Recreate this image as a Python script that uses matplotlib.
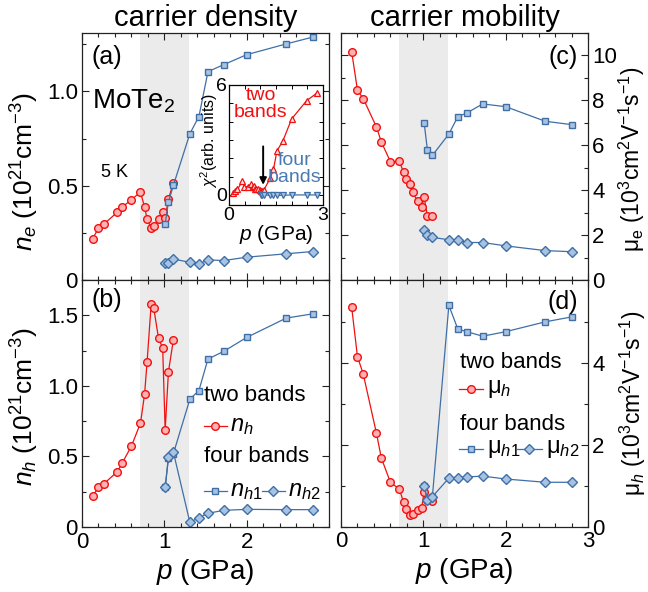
import numpy as np
import matplotlib
matplotlib.use("Agg")
import matplotlib.pyplot as plt
from matplotlib.ticker import MultipleLocator, FixedLocator

plt.rcParams["font.family"] = "Liberation Sans"
plt.rcParams["mathtext.fontset"] = "custom"
plt.rcParams["mathtext.rm"] = "Liberation Sans"
plt.rcParams["mathtext.it"] = "Liberation Sans:italic"
plt.rcParams["mathtext.bf"] = "Liberation Sans:bold"

# ---------- data ----------
p2 = [0.13, 0.20, 0.27, 0.43, 0.49, 0.60, 0.71, 0.76, 0.79, 0.84, 0.87, 0.93, 0.98, 1.01, 1.05, 1.11]
p4 = [1.01, 1.05, 1.11, 1.31, 1.42, 1.53, 1.72, 2.00, 2.48, 2.80]

n_e = [0.22, 0.275, 0.298, 0.36, 0.387, 0.426, 0.466, 0.387, 0.325, 0.274, 0.284, 0.323, 0.358, 0.327, 0.43, 0.515]
n_e1 = [0.298, 0.414, 0.502, 0.776, 0.867, 1.105, 1.142, 1.195, 1.252, 1.288]
n_e2 = [0.090, 0.092, 0.111, 0.094, 0.085, 0.107, 0.103, 0.121, 0.139, 0.151]

n_h = [0.22, 0.28, 0.308, 0.393, 0.455, 0.573, 0.735, 0.94, 1.166, 1.578, 1.555, 1.336, 1.268, 0.687, 1.10, 1.327]
n_h1 = [0.28, 0.49, 0.52, 0.905, 0.967, 1.19, 1.244, 1.343, 1.48, 1.51]
n_h2 = [0.28, 0.495, 0.53, 0.033, 0.066, 0.097, 0.118, 0.125, 0.123, 0.123]

mu_e = [10.16, 8.45, 8.08, 6.82, 6.15, 5.27, 5.28, 4.79, 4.50, 4.29, 3.91, 3.52, 3.24, 3.69, 2.83, 2.87]
mu_e1 = [7.0, 5.77, 5.55, 6.50, 7.28, 7.44, 7.84, 7.72, 7.07, 6.92]
mu_e2 = [2.23, 2.0, 1.90, 1.79, 1.79, 1.67, 1.67, 1.52, 1.31, 1.26]

mu_h = [5.35, 4.15, 3.73, 2.29, 1.68, 1.09, 0.92, 0.60, 0.43, 0.30, 0.32, 0.41, 0.47, 0.86, 0.65, 0.63]
mu_h1 = [1.0, 0.65, 0.74, 5.40, 4.82, 4.76, 4.65, 4.76, 5.00, 5.12]
mu_h2 = [1.01, 0.65, 0.74, 1.19, 1.20, 1.22, 1.24, 1.17, 1.09, 1.09]

p_chi2 = p2 + [1.31, 1.42, 1.53, 1.72, 2.00, 2.48, 2.80]
chi2_two = [0.1, 0.2, 0.3, 0.75, 0.45, 0.45, 0.6, 0.45, 0.5, 0.35, 0.35, 0.3, 0.25, 0.2, 0.2, 0.25,
            0.9, 1.4, 2.4, 2.95, 4.15, 5.15, 5.55]
chi2_four = [0.02, 0.0, 0.0, -0.02, -0.02, -0.02, -0.02, 0.0, 0.0, 0.0]

shade = (0.7, 1.3)

# ---------- styles ----------
RED = "#f01010"
RED_F = "#ffb0b0"
BLUE = "#3f6fa6"
BLUE_F = "#a8c3e2"
red_kw = dict(color=RED, lw=0.9, marker="o", ms=5.5, mfc=RED_F, mec=RED, mew=1.0)
sq_kw = dict(color=BLUE, lw=0.9, marker="s", ms=5.0, mfc=BLUE_F, mec=BLUE, mew=1.0)
di_kw = dict(color=BLUE, lw=0.9, marker="D", ms=5.5, mfc=BLUE_F, mec=BLUE, mew=1.0)

fig = plt.figure(figsize=(6.48, 5.92), dpi=100)
W, H = 648.0, 592.0


def axes_px(x0, x1, y0, y1):
    return fig.add_axes([x0 / W, 1 - y1 / H, (x1 - x0) / W, (y1 - y0) / H])


ax_a = axes_px(82, 329, 33, 280)
ax_b = axes_px(82, 329, 280, 527)
ax_c = axes_px(341, 588, 33, 280)
ax_d = axes_px(341, 588, 280, 527)

for ax in (ax_a, ax_b, ax_c, ax_d):
    ax.axvspan(*shade, color="#ebebeb", lw=0, zorder=0)
    ax.set_xlim(0, 3.0)
    ax.xaxis.set_minor_locator(MultipleLocator(0.2))
    ax.tick_params(which="both", direction="in", top=True, right=True, labelsize=16,
                   width=0.8, color="#222222")
    ax.tick_params(which="major", length=5)
    ax.tick_params(which="minor", length=3)
    for s in ax.spines.values():
        s.set_linewidth(0.9)
        s.set_color("#222222")

for ax in (ax_a, ax_c):
    ax.tick_params(labelbottom=False)
for ax in (ax_c, ax_d):
    ax.tick_params(labelleft=False, labelright=True, pad=3)
for ax in (ax_a, ax_b):
    ax.tick_params(axis="y", pad=3)

# ---------- (a) ----------
ax_a.plot(p2, n_e, **red_kw)
ax_a.plot(p4, n_e1, **sq_kw)
ax_a.plot(p4, n_e2, **di_kw)
ax_a.set_ylim(0, 1.31)
ax_a.set_yticks([0, 0.5, 1.0])
ax_a.set_yticklabels(["0", "0.5", "1.0"])
ax_a.yaxis.set_minor_locator(MultipleLocator(0.25))
ax_a.set_title("carrier density", fontsize=21, pad=5)
ax_a.set_ylabel(r"$n_e$ (10$^{21}$cm$^{-3}$)", fontsize=19)
ax_a.yaxis.set_label_coords(-0.165, 0.44)
ax_a.text(0.04, 0.95, "(a)", transform=ax_a.transAxes, fontsize=18, va="top", ha="left")
ax_a.text(0.04, 0.78, r"MoTe$_2$", transform=ax_a.transAxes, fontsize=20, va="top", ha="left")
ax_a.text(0.075, 0.435, "5 K", transform=ax_a.transAxes, fontsize=13, va="center", ha="left")

# inset
ax_i = axes_px(229, 323, 85, 205)
ax_i.plot(p_chi2, chi2_two, color=RED, lw=0.9, marker="^", ms=4.5, mfc="#ffe6e6", mec=RED, mew=0.9)
ax_i.plot(p4, chi2_four, color=BLUE, lw=0.9, marker="v", ms=4.0, mfc=BLUE_F, mec=BLUE, mew=0.9)
ax_i.annotate("", xy=(1.09, 0.4), xytext=(1.09, 2.8),
              arrowprops=dict(arrowstyle="-|>", color="black", lw=1.4, mutation_scale=10))
ax_i.set_xlim(0, 3)
ax_i.set_ylim(-0.55, 6)
ax_i.set_xticks([0, 3])
ax_i.set_yticks([0, 6])
ax_i.xaxis.set_minor_locator(FixedLocator([0.5, 1, 1.5, 2, 2.5]))
ax_i.yaxis.set_minor_locator(FixedLocator([1, 2, 3, 4, 5]))
ax_i.tick_params(which="both", direction="in", top=True, right=True, labelsize=14, pad=1.5,
                 width=0.7)
ax_i.tick_params(which="major", length=3.5)
ax_i.tick_params(which="minor", length=3)
for s in ax_i.spines.values():
    s.set_linewidth(0.9)
ax_i.set_xlabel(r"$p$ (GPa)", fontsize=15, labelpad=-1)
ax_i.set_ylabel(r"$\chi^{2}$(arb. units)", fontsize=11.5, labelpad=-2)
ax_i.yaxis.set_label_coords(-0.10, 0.54)
ax_i.text(0.34, 0.84, "two\nbands", transform=ax_i.transAxes, fontsize=14, color=RED,
          ha="center", va="center", linespacing=1.0)
ax_i.text(0.70, 0.30, "four\nbands", transform=ax_i.transAxes, fontsize=14, color="#4a7ab3",
          ha="center", va="center", linespacing=1.0)

# ---------- (b) ----------
ax_b.plot(p2, n_h, **red_kw)
ax_b.plot(p4, n_h1, **sq_kw)
ax_b.plot(p4, n_h2, **di_kw)
ax_b.set_ylim(0, 1.75)
ax_b.set_yticks([0, 0.5, 1.0, 1.5])
ax_b.set_yticklabels(["0", "0.5", "1.0", "1.5"])
ax_b.yaxis.set_minor_locator(MultipleLocator(0.25))
ax_b.set_xticks([0, 1, 2])
ax_b.set_xlabel(r"$p$ (GPa)", fontsize=20, labelpad=3)
ax_b.set_ylabel(r"$n_h$ (10$^{21}$cm$^{-3}$)", fontsize=19)
ax_b.yaxis.set_label_coords(-0.165, 0.486)
ax_b.text(0.04, 0.968, "(b)", transform=ax_b.transAxes, fontsize=18, va="top", ha="left")

# hand-made legend (b)
t = ax_b.transAxes
ax_b.text(0.495, 0.532, "two bands", transform=t, fontsize=16, va="center", ha="left")
ax_b.plot([0.494, 0.587], [0.41, 0.41], transform=t, color=RED, lw=0.9)
ax_b.plot([0.540], [0.41], transform=t, ls="none", marker="o", ms=5.5, mfc=RED_F, mec=RED, mew=1.0)
ax_b.text(0.60, 0.41, r"$n_h$", transform=t, fontsize=17, va="center", ha="left")
ax_b.text(0.495, 0.287, "four bands", transform=t, fontsize=16, va="center", ha="left")
ax_b.plot([0.494, 0.587], [0.147, 0.147], transform=t, color=BLUE, lw=0.9)
ax_b.plot([0.540], [0.147], transform=t, ls="none", marker="s", ms=5.0, mfc=BLUE_F, mec=BLUE, mew=1.0)
ax_b.text(0.60, 0.147, r"$n_{h1}$", transform=t, fontsize=17, va="center", ha="left")
ax_b.plot([0.729, 0.822], [0.147, 0.147], transform=t, color=BLUE, lw=0.9)
ax_b.plot([0.775], [0.147], transform=t, ls="none", marker="D", ms=5.5, mfc=BLUE_F, mec=BLUE, mew=1.0)
ax_b.text(0.835, 0.147, r"$n_{h2}$", transform=t, fontsize=17, va="center", ha="left")

# ---------- (c) ----------
ax_c.plot(p2, mu_e, **red_kw)
ax_c.plot(p4, mu_e1, **sq_kw)
ax_c.plot(p4, mu_e2, **di_kw)
ax_c.set_ylim(0, 11)
ax_c.set_yticks([0, 2, 4, 6, 8, 10])
ax_c.yaxis.set_minor_locator(MultipleLocator(1))
ax_c.set_title("carrier mobility", fontsize=21, pad=5)
ax_c.yaxis.set_label_position("right")
ax_c.set_ylabel(r"$\mathrm{\mu_e}$ (10$^{3}$cm$^{2}$V$^{-1}$s$^{-1}$)", fontsize=16.5)
ax_c.yaxis.set_label_coords(1.115, 0.49)
ax_c.text(0.96, 0.95, "(c)", transform=ax_c.transAxes, fontsize=18, va="top", ha="right")

# ---------- (d) ----------
ax_d.plot(p2, mu_h, **red_kw)
ax_d.plot(p4, mu_h1, **sq_kw)
ax_d.plot(p4, mu_h2, **di_kw)
ax_d.set_ylim(0, 6.02)
ax_d.set_yticks([0, 2, 4])
ax_d.yaxis.set_minor_locator(FixedLocator([1, 3, 5]))
ax_d.set_xticks([0, 1, 2, 3])
ax_d.set_xlabel(r"$p$ (GPa)", fontsize=20, labelpad=3)
ax_d.yaxis.set_label_position("right")
ax_d.set_ylabel(r"$\mathrm{\mu}_{h}$ (10$^{3}$cm$^{2}$V$^{-1}$s$^{-1}$)", fontsize=16.5)
ax_d.yaxis.set_label_coords(1.12, 0.50)
ax_d.text(0.96, 0.96, "(d)", transform=ax_d.transAxes, fontsize=18, va="top", ha="right")

t = ax_d.transAxes
ax_d.text(0.482, 0.668, "two bands", transform=t, fontsize=16, va="center", ha="left")
ax_d.plot([0.478, 0.575], [0.559, 0.559], transform=t, color=RED, lw=0.9)
ax_d.plot([0.527], [0.559], transform=t, ls="none", marker="o", ms=5.5, mfc=RED_F, mec=RED, mew=1.0)
ax_d.text(0.59, 0.559, r"$\mathrm{\mu}_{h}$", transform=t, fontsize=17, va="center", ha="left")
ax_d.text(0.482, 0.417, "four bands", transform=t, fontsize=16, va="center", ha="left")
ax_d.plot([0.478, 0.575], [0.316, 0.316], transform=t, color=BLUE, lw=0.9)
ax_d.plot([0.527], [0.316], transform=t, ls="none", marker="s", ms=5.0, mfc=BLUE_F, mec=BLUE, mew=1.0)
ax_d.text(0.59, 0.316, r"$\mathrm{\mu}_{h1}$", transform=t, fontsize=17, va="center", ha="left")
ax_d.plot([0.713, 0.814], [0.316, 0.316], transform=t, color=BLUE, lw=0.9)
ax_d.plot([0.763], [0.316], transform=t, ls="none", marker="D", ms=5.5, mfc=BLUE_F, mec=BLUE, mew=1.0)
ax_d.text(0.83, 0.316, r"$\mathrm{\mu}_{h2}$", transform=t, fontsize=17, va="center", ha="left")

fig.savefig("out.png", dpi=100)
